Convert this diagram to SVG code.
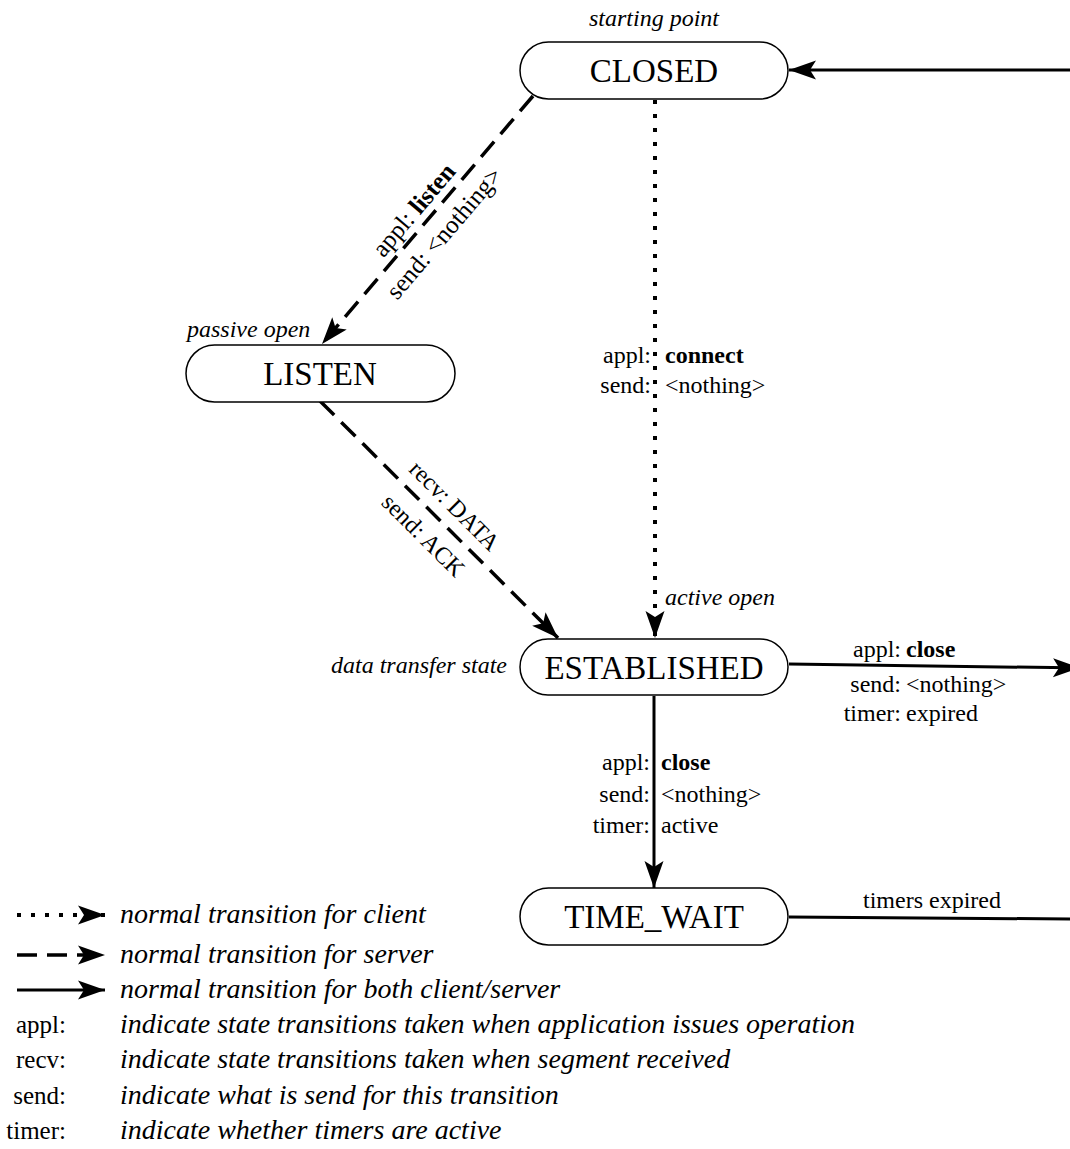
<svg xmlns="http://www.w3.org/2000/svg" width="1070" height="1149" viewBox="0 0 1070 1149">
<style>
.box{fill:#fff;stroke:#000;stroke-width:1.5}
.state{font-family:"Liberation Serif","Times New Roman",serif;font-size:33px;text-anchor:middle;fill:#000}
.lbl{font-family:"Liberation Serif","Times New Roman",serif;font-size:24px;fill:#000}
.rot{font-size:25px}
.it{font-style:italic}
.b{font-weight:bold}
.r{text-anchor:end}
.m{text-anchor:middle}
.leg{font-family:"Liberation Serif","Times New Roman",serif;font-size:28px;fill:#000}
.legl{font-family:"Liberation Serif","Times New Roman",serif;font-size:25px;fill:#000;text-anchor:end}
.solid{stroke:#000;stroke-width:3;fill:none}
.dash{stroke:#000;stroke-width:3.5;fill:none;stroke-dasharray:20 10}
.dot{stroke:#000;stroke-width:4;fill:none;stroke-dasharray:4 10}
</style>
<defs>
<marker id="ah" markerUnits="userSpaceOnUse" viewBox="-1 -10 29 20" markerWidth="29" markerHeight="20" refX="27" refY="0" orient="auto">
<path d="M0,-9.5 L27,0 L0,9.5 L6,0 Z" fill="#000"/>
</marker>
</defs>

<g id="connectors">
<line class="solid" x1="1070" y1="70" x2="789" y2="70" marker-end="url(#ah)"/>
<line class="dash" x1="533" y1="96" x2="322" y2="344" marker-end="url(#ah)"/>
<line class="dot" x1="655" y1="100" x2="655" y2="638" marker-end="url(#ah)"/>
<line class="dash" x1="320" y1="401" x2="558" y2="638" marker-end="url(#ah)"/>
<line class="solid" x1="789" y1="664" x2="1080" y2="668" marker-end="url(#ah)"/>
<line class="solid" x1="654" y1="696" x2="654" y2="888" marker-end="url(#ah)"/>
<line class="solid" x1="789" y1="917" x2="1070" y2="919"/>
</g>

<g id="edge-labels">
<g transform="translate(427.5,219) rotate(-49.6)">
<text class="lbl rot m" x="-2" y="-8">appl: <tspan class="b">listen</tspan></text>
<text class="lbl rot m" x="0" y="30">send: &lt;nothing&gt;</text>
</g>
<g transform="translate(439,518.5) rotate(44.9)">
<text class="lbl m" x="2" y="-12">recv: DATA</text>
<text class="lbl m" x="1" y="31">send: ACK</text>
</g>
<text class="lbl r" x="651" y="363">appl:</text>
<text class="lbl b" x="665" y="363">connect</text>
<text class="lbl r" x="651" y="393">send:</text>
<text class="lbl" x="665" y="393">&lt;nothing&gt;</text>
<text class="lbl it" x="665" y="605">active open</text>
<text class="lbl r" x="901" y="657">appl:</text>
<text class="lbl b" x="906" y="657">close</text>
<text class="lbl r" x="901" y="692">send:</text>
<text class="lbl" x="906" y="692">&lt;nothing&gt;</text>
<text class="lbl r" x="901" y="721">timer:</text>
<text class="lbl" x="906" y="721">expired</text>
<text class="lbl r" x="650" y="770">appl:</text>
<text class="lbl b" x="661" y="770">close</text>
<text class="lbl r" x="650" y="802">send:</text>
<text class="lbl" x="661" y="802">&lt;nothing&gt;</text>
<text class="lbl r" x="650" y="833">timer:</text>
<text class="lbl" x="661" y="833">active</text>
<text class="lbl m" x="932" y="908">timers expired</text>
</g>

<g id="closed">
<rect class="box" x="520" y="42" width="268" height="57" rx="28.5"/>
<text class="state" x="654" y="82">CLOSED</text>
<text class="lbl it m" x="654" y="26">starting point</text>
</g>
<g id="listen">
<rect class="box" x="186" y="345" width="269" height="57" rx="28.5"/>
<text class="state" x="320" y="385">LISTEN</text>
<text class="lbl it" x="187" y="337">passive open</text>
</g>
<g id="established">
<rect class="box" x="520" y="639" width="268" height="56" rx="28"/>
<text class="state" x="654" y="679">ESTABLISHED</text>
<text class="lbl it r" x="507" y="673">data transfer state</text>
</g>
<g id="time_wait">
<rect class="box" x="520" y="888" width="268" height="57" rx="28.5"/>
<text class="state" x="654" y="928">TIME_WAIT</text>
</g>

<g id="legend">
<line class="dot" x1="17" y1="915" x2="105" y2="915" marker-end="url(#ah)"/>
<line class="dash" x1="17" y1="955" x2="105" y2="955" marker-end="url(#ah)"/>
<line class="solid" x1="17" y1="990" x2="105" y2="990" marker-end="url(#ah)"/>
<text class="leg it" x="120" y="923">normal transition for client</text>
<text class="leg it" x="120" y="963">normal transition for server</text>
<text class="leg it" x="120" y="998">normal transition for both client/server</text>
<text class="legl" x="66" y="1033">appl:</text>
<text class="legl" x="66" y="1068">recv:</text>
<text class="legl" x="66" y="1104">send:</text>
<text class="legl" x="66" y="1139">timer:</text>
<text class="leg it" x="120" y="1033">indicate state transitions taken when application issues operation</text>
<text class="leg it" x="120" y="1068">indicate state transitions taken when segment received</text>
<text class="leg it" x="120" y="1104">indicate what is send for this transition</text>
<text class="leg it" x="120" y="1139">indicate whether timers are active</text>
</g>
</svg>
